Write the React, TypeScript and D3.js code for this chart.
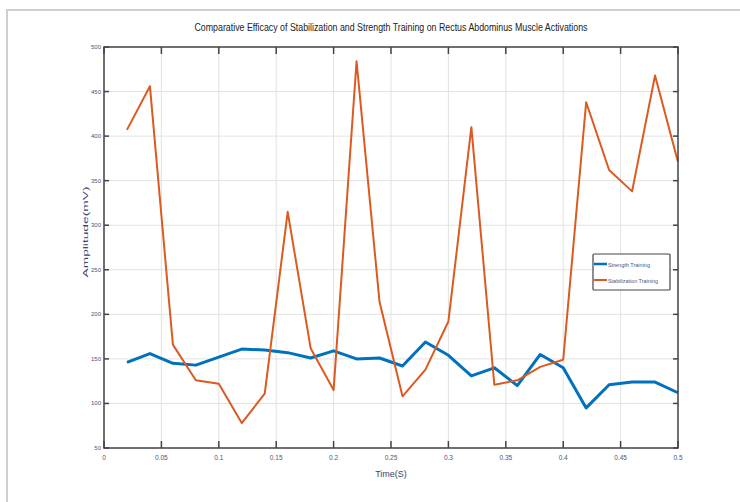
import React from "react";
import * as d3 from "d3";

const timeS = [0.02, 0.04, 0.06, 0.08, 0.1, 0.12, 0.14, 0.16, 0.18, 0.2, 0.22, 0.24, 0.26, 0.28, 0.3, 0.32, 0.34, 0.36, 0.38, 0.4, 0.42, 0.44, 0.46, 0.48, 0.5];
const strengthTraining = [146, 156, 145, 143, 152, 161, 160, 157, 151, 159, 150, 151, 142, 169, 154, 131, 140, 120, 155, 140, 95, 121, 124, 124, 112];
const stabilizationTraining = [407, 456, 166, 126, 122, 78, 111, 315, 162, 115, 484, 214, 108, 138, 192, 410, 121, 126, 141, 149, 438, 362, 338, 468, 371];
const xTicks = [0, 0.05, 0.1, 0.15, 0.2, 0.25, 0.3, 0.35, 0.4, 0.45, 0.5];
const yTicks = [50, 100, 150, 200, 250, 300, 350, 400, 450, 500];
const seriesNames = ["Strength Training", "Stabilization Training"];
const titleText = "Comparative Efficacy of Stabilization and Strength Training on Rectus Abdominus Muscle Activations";

export default function App() {
  const W = 740, H = 502;
  const L = 104, R = 678, T = 47, B = 448;
  const x = d3.scaleLinear().domain([0, 0.5]).range([L, R]);
  const y = d3.scaleLinear().domain([50, 500]).range([B, T]);
  const line = d3.line<number>().x((_, i) => x(timeS[i])).y((d) => y(d));
  const blue = "#0072BD";
  const orange = "#DC5A22";
  const labelColor = "#4a5478";
  const font = "'Liberation Sans Narrow', 'Liberation Sans', Arial, sans-serif";
  const fmt = (v: number) => (v === 0 ? "0" : String(v));
  return (
    <svg width={W} height={H} style={{ position: "absolute", left: 0, top: 0, display: "block", background: "#fff" }} fontFamily={font}>
      <rect x={7} y={10} width={W} height={H} fill="#fff" stroke="#cfcfcf" strokeWidth={2} />
      <text x={391} y={31} textAnchor="middle" fontSize={10} fill="#222" textLength={393} lengthAdjust="spacingAndGlyphs">{titleText}</text>
      {xTicks.map((t) => (
        <line key={"gx" + t} x1={x(t)} x2={x(t)} y1={T} y2={B} stroke="#e2e2e2" strokeWidth={1} />
      ))}
      {yTicks.map((t) => (
        <line key={"gy" + t} x1={L} x2={R} y1={y(t)} y2={y(t)} stroke="#e2e2e2" strokeWidth={1} />
      ))}
      {xTicks.map((t) => (
        <g key={"tx" + t}>
          <line x1={x(t)} x2={x(t)} y1={B} y2={B - 7} stroke="#444" strokeWidth={1.5} />
          <line x1={x(t)} x2={x(t)} y1={T} y2={T + 7} stroke="#444" strokeWidth={1.5} />
          <text x={x(t)} y={460} textAnchor="middle" fontSize={6.5} fill={labelColor}>{fmt(t)}</text>
        </g>
      ))}
      {yTicks.map((t) => (
        <g key={"ty" + t}>
          <line x1={L} x2={L + 5} y1={y(t)} y2={y(t)} stroke="#444" strokeWidth={1.5} />
          <line x1={R} x2={R - 5} y1={y(t)} y2={y(t)} stroke="#444" strokeWidth={1.5} />
          <text x={101} y={y(t) + 2} textAnchor="end" fontSize={6} fill={labelColor}>{t}</text>
        </g>
      ))}
      <path d={line(strengthTraining) || ""} fill="none" stroke={blue} strokeWidth={3} strokeLinejoin="round" />
      <path d={line(stabilizationTraining) || ""} fill="none" stroke={orange} strokeWidth={2} strokeLinejoin="round" />
      <rect x={L} y={T} width={R - L} height={B - T} fill="none" stroke="#444" strokeWidth={1.5} />
      <text transform={`translate(88,232) rotate(-90)`} textAnchor="middle" fontSize={7.5} fill="#3a3f6a" textLength={91} lengthAdjust="spacingAndGlyphs">Amplitude(mV)</text>
      <text x={391} y={477} textAnchor="middle" fontSize={9} fill="#3a3f6a">Time(S)</text>
      <g>
        <rect x={593} y={254} width={77} height={36} fill="#fff" stroke="#444" strokeWidth={1.2} rx={1} />
        {seriesNames.map((n, i) => (
          <g key={n}>
            <line x1={594} x2={607} y1={264 + i * 16} y2={264 + i * 16} stroke={i === 0 ? blue : orange} strokeWidth={i === 0 ? 2.5 : 2} />
            <text x={608} y={266.5 + i * 16} fontSize={6} fill={labelColor} textLength={i === 0 ? 42 : 50} lengthAdjust="spacingAndGlyphs">{n}</text>
          </g>
        ))}
      </g>
    </svg>
  );
}
